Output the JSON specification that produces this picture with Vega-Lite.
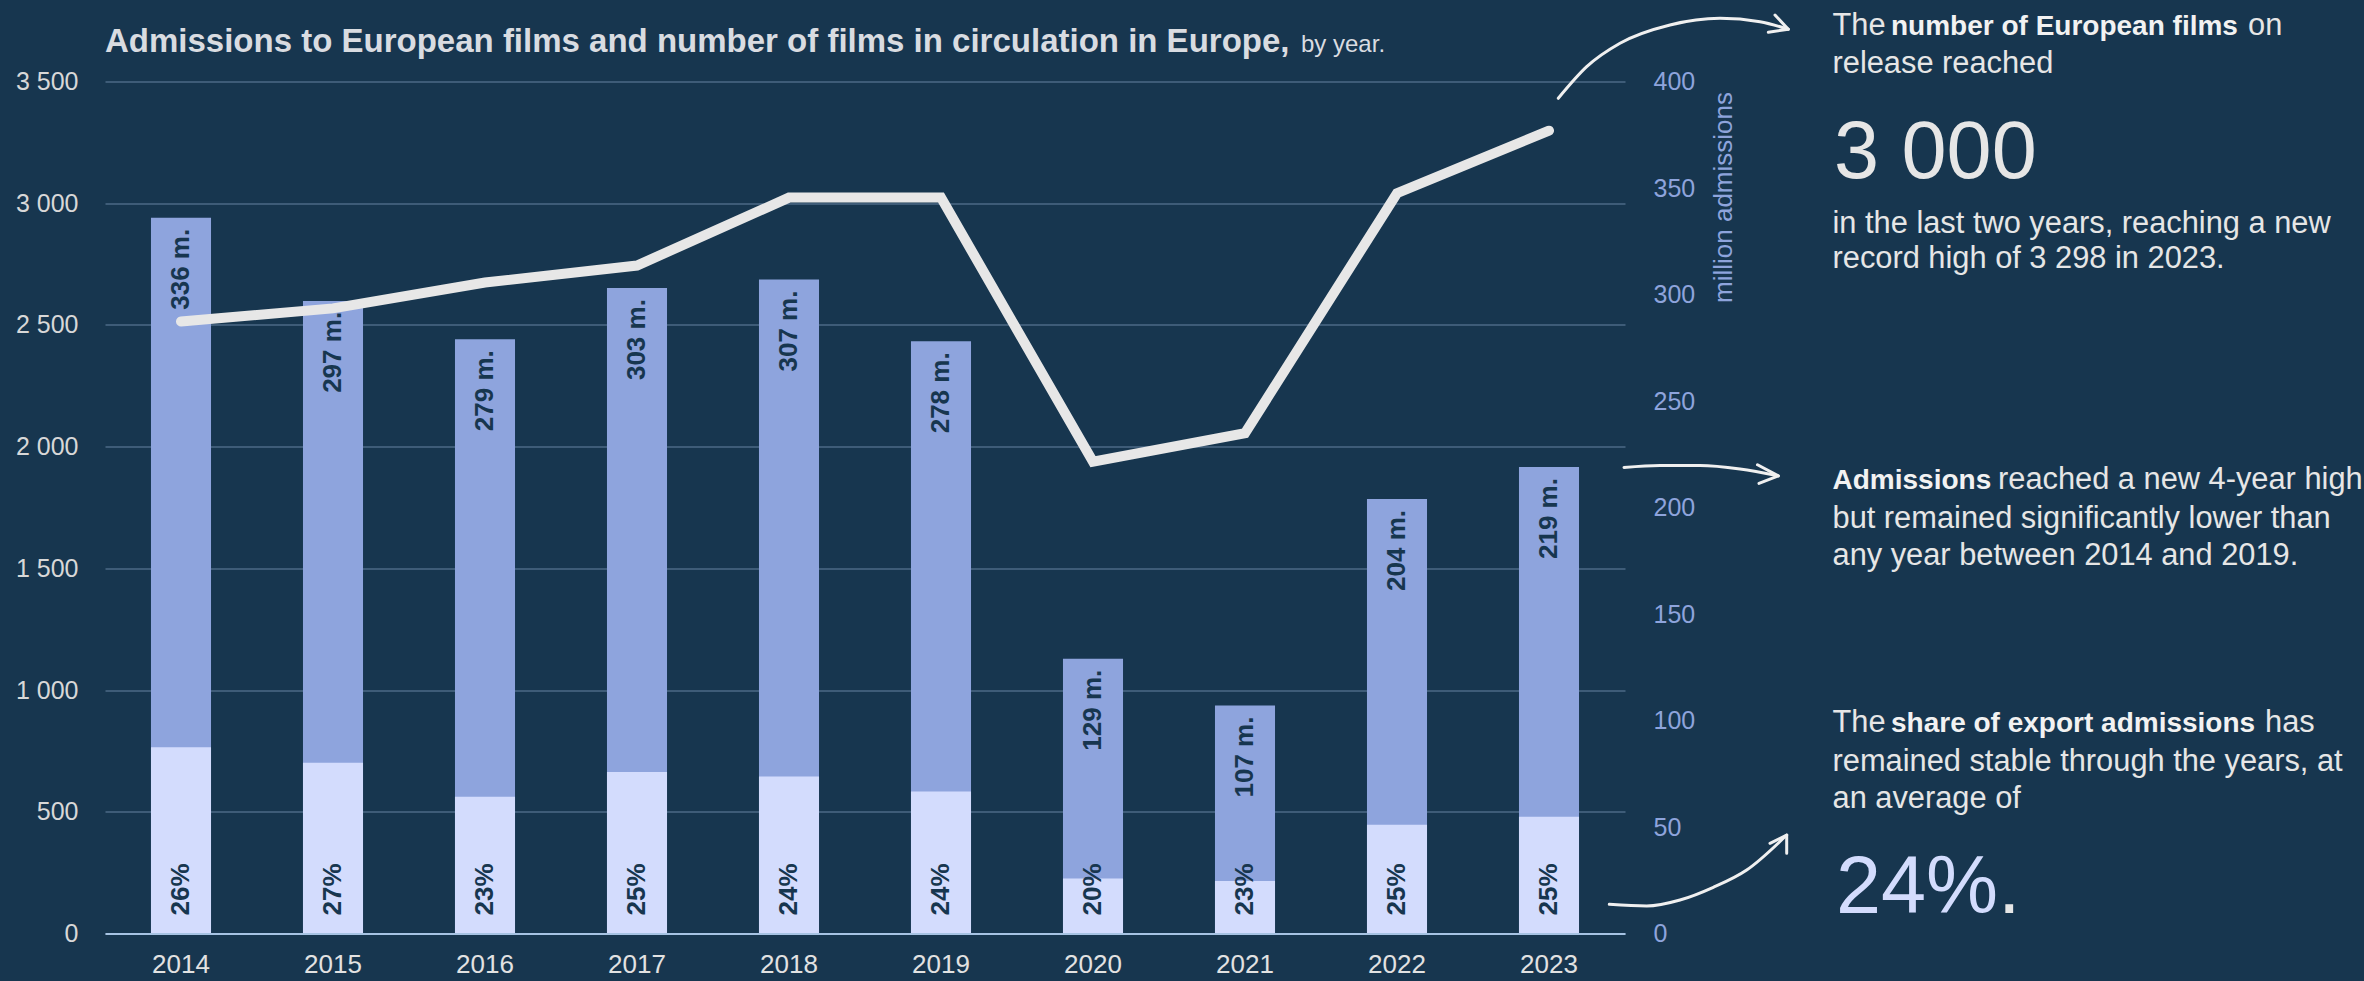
{
  "$schema": "https://vega.github.io/schema/vega-lite/v6.json",
  "autosize": {"type": "none"},
  "width": 1520,
  "height": 852,
  "padding": {"left": 105, "top": 81.5, "right": 739, "bottom": 47.5},
  "background": "#17364f",
  "config": {
    "view": {"stroke": null},
    "font": "Liberation Sans",
    "locale": {"number": {"decimal": ".", "thousands": " ", "grouping": [3], "currency": ["", ""]}}
  },
  "datasets": {
    "films": [
      {"year": "2014", "films": 2514, "admissions": 336, "export": 87.4, "admLabel": "336 m.", "shareLabel": "26%"},
      {"year": "2015", "films": 2568, "admissions": 297, "export": 80.2, "admLabel": "297 m.", "shareLabel": "27%"},
      {"year": "2016", "films": 2674, "admissions": 279, "export": 64.2, "admLabel": "279 m.", "shareLabel": "23%"},
      {"year": "2017", "films": 2744, "admissions": 303, "export": 75.8, "admLabel": "303 m.", "shareLabel": "25%"},
      {"year": "2018", "films": 3023, "admissions": 307, "export": 73.7, "admLabel": "307 m.", "shareLabel": "24%"},
      {"year": "2019", "films": 3023, "admissions": 278, "export": 66.7, "admLabel": "278 m.", "shareLabel": "24%"},
      {"year": "2020", "films": 1938, "admissions": 129, "export": 25.8, "admLabel": "129 m.", "shareLabel": "20%"},
      {"year": "2021", "films": 2055, "admissions": 107, "export": 24.6, "admLabel": "107 m.", "shareLabel": "23%"},
      {"year": "2022", "films": 3041, "admissions": 204, "export": 51.0, "admLabel": "204 m.", "shareLabel": "25%"},
      {"year": "2023", "films": 3298, "admissions": 219, "export": 54.8, "admLabel": "219 m.", "shareLabel": "25%"}
    ],
    "notes": [
      {"role": "title", "px": 0, "py": -29.2, "text": "Admissions to European films and number of films in circulation in Europe,"},
      {"role": "titlenote", "px": 1196, "py": -29.2, "text": "by year."},
      {"role": "body", "px": 1727.5, "py": -46.5, "text": "The"},
      {"role": "emph", "px": 1786, "py": -46.5, "text": "number of European films"},
      {"role": "body", "px": 2143, "py": -46.5, "text": "on"},
      {"role": "body", "px": 1727.5, "py": -8.2, "text": "release reached"},
      {"role": "figure", "px": 1729, "py": 96.8, "text": "3 000"},
      {"role": "body", "px": 1727.5, "py": 151.8, "text": "in the last two years, reaching a new"},
      {"role": "body", "px": 1727.5, "py": 186.8, "text": "record high of 3 298 in 2023."},
      {"role": "emph", "px": 1727.5, "py": 407.4, "text": "Admissions"},
      {"role": "body", "px": 1893, "py": 407.4, "text": "reached a new 4-year high"},
      {"role": "body", "px": 1727.5, "py": 446.3, "text": "but remained significantly lower than"},
      {"role": "body", "px": 1727.5, "py": 483.4, "text": "any year between 2014 and 2019."},
      {"role": "body", "px": 1727.5, "py": 650.1, "text": "The"},
      {"role": "emph", "px": 1786, "py": 650.1, "text": "share of export admissions"},
      {"role": "body", "px": 2160, "py": 650.1, "text": "has"},
      {"role": "body", "px": 1727.5, "py": 689, "text": "remained stable through the years, at"},
      {"role": "body", "px": 1727.5, "py": 726.1, "text": "an average of"},
      {"role": "accent", "px": 1731, "py": 831.6, "text": "24%"},
      {"role": "figure", "px": 1893, "py": 831.6, "text": "."}
    ],
    "arrows": [
      {"arrow": "a1", "part": "curve", "seq": 1, "px": 1453.3, "py": 16.8},
      {"arrow": "a1", "part": "curve", "seq": 2, "px": 1481.7, "py": -14.8},
      {"arrow": "a1", "part": "curve", "seq": 3, "px": 1515, "py": -38.2},
      {"arrow": "a1", "part": "curve", "seq": 4, "px": 1565, "py": -56.5},
      {"arrow": "a1", "part": "curve", "seq": 5, "px": 1615, "py": -63.2},
      {"arrow": "a1", "part": "curve", "seq": 6, "px": 1655, "py": -59.8},
      {"arrow": "a1", "part": "curve", "seq": 7, "px": 1683.3, "py": -52.2},
      {"arrow": "a1", "part": "head", "seq": 1, "px": 1670, "py": -66.5},
      {"arrow": "a1", "part": "head", "seq": 2, "px": 1683.3, "py": -52.2},
      {"arrow": "a1", "part": "head", "seq": 3, "px": 1663.3, "py": -49.2},
      {"arrow": "a2", "part": "curve", "seq": 1, "px": 1519, "py": 386},
      {"arrow": "a2", "part": "curve", "seq": 2, "px": 1555, "py": 384},
      {"arrow": "a2", "part": "curve", "seq": 3, "px": 1595, "py": 384},
      {"arrow": "a2", "part": "curve", "seq": 4, "px": 1635, "py": 387.5},
      {"arrow": "a2", "part": "curve", "seq": 5, "px": 1673.3, "py": 394.4},
      {"arrow": "a2", "part": "head", "seq": 1, "px": 1652.5, "py": 383.3},
      {"arrow": "a2", "part": "head", "seq": 2, "px": 1673.3, "py": 394.4},
      {"arrow": "a2", "part": "head", "seq": 3, "px": 1654, "py": 401.9},
      {"arrow": "a3", "part": "curve", "seq": 1, "px": 1504.3, "py": 822.8},
      {"arrow": "a3", "part": "curve", "seq": 2, "px": 1541.7, "py": 824.5},
      {"arrow": "a3", "part": "curve", "seq": 3, "px": 1575, "py": 818.5},
      {"arrow": "a3", "part": "curve", "seq": 4, "px": 1608.3, "py": 805.8},
      {"arrow": "a3", "part": "curve", "seq": 5, "px": 1641.7, "py": 788.5},
      {"arrow": "a3", "part": "curve", "seq": 6, "px": 1681.7, "py": 753.5},
      {"arrow": "a3", "part": "head", "seq": 1, "px": 1665, "py": 761.8},
      {"arrow": "a3", "part": "head", "seq": 2, "px": 1681.7, "py": 753.5},
      {"arrow": "a3", "part": "head", "seq": 3, "px": 1681.7, "py": 771.8}
    ]
  },
  "layer": [
    {
      "data": {"name": "films"},
      "layer": [
        {
          "layer": [
            {
              "mark": {"type": "bar", "color": "#8ea4dd"},
              "encoding": {
                "x": {
                  "field": "year", "type": "ordinal",
                  "scale": {"paddingInner": 0.605, "paddingOuter": 0.3025},
                  "axis": {"title": null, "labelAngle": 0, "domainColor": "#a6c3e3", "domainWidth": 2, "ticks": false, "labelColor": "#e2e2e2", "labelFontSize": 26, "labelBaseline": "alphabetic", "labelPadding": 39, "grid": false, "zindex": 1}
                },
                "y": {
                  "field": "admissions", "type": "quantitative",
                  "scale": {"domain": [0, 400], "nice": false},
                  "axis": {"orient": "right", "title": "million admissions", "values": [0, 50, 100, 150, 200, 250, 300, 350, 400], "grid": false, "domain": false, "ticks": false, "labelColor": "#8ea4dc", "labelFontSize": 25, "labelPadding": 28, "titleColor": "#8ea4dc", "titleFontSize": 26, "titleFontWeight": "normal", "titleAngle": 270, "titleAlign": "right", "titleBaseline": "middle", "titleX": 98, "titleY": 10}
                }
              }
            },
            {
              "mark": {"type": "bar", "color": "#d3dcfd"},
              "encoding": {
                "x": {"field": "year", "type": "ordinal"},
                "y": {"field": "export", "type": "quantitative"}
              }
            },
            {
              "mark": {"type": "text", "angle": 270, "align": "right", "baseline": "middle", "dx": -11, "fontSize": 26, "fontWeight": "bold", "color": "#17364f"},
              "encoding": {
                "x": {"field": "year", "type": "ordinal"},
                "y": {"field": "admissions", "type": "quantitative"},
                "text": {"field": "admLabel"}
              }
            },
            {
              "mark": {"type": "text", "angle": 270, "align": "left", "baseline": "middle", "dx": 18, "fontSize": 26, "fontWeight": "bold", "color": "#17364f"},
              "encoding": {
                "x": {"field": "year", "type": "ordinal"},
                "y": {"datum": 0, "type": "quantitative"},
                "text": {"field": "shareLabel"}
              }
            }
          ]
        },
        {
          "mark": {"type": "line", "color": "#e7e7e7", "strokeWidth": 10, "strokeCap": "round", "strokeJoin": "miter"},
          "encoding": {
            "x": {"field": "year", "type": "ordinal"},
            "y": {
              "field": "films", "type": "quantitative",
              "scale": {"domain": [0, 3500], "nice": false},
              "axis": {"orient": "left", "title": null, "values": [0, 500, 1000, 1500, 2000, 2500, 3000, 3500], "format": ",d", "grid": true, "gridColor": "#3e5c78", "gridWidth": 2, "domain": false, "ticks": false, "labelColor": "#d8d8d8", "labelFontSize": 25, "labelPadding": 27}
            }
          }
        }
      ],
      "resolve": {"scale": {"y": "independent"}}
    },
    {
      "layer": [
        {
          "data": {"name": "arrows"},
          "transform": [{"filter": "datum.part === 'curve'"}],
          "mark": {"type": "line", "interpolate": "monotone", "color": "#f0f0f0", "strokeWidth": 3, "strokeCap": "round"},
          "encoding": {
            "x": {"field": "px", "type": "quantitative", "scale": {"domain": [0, 1520], "nice": false, "zero": false}, "axis": null},
            "y": {"field": "py", "type": "quantitative", "scale": {"domain": [0, 852], "nice": false, "zero": false, "reverse": true}, "axis": null},
            "detail": {"field": "arrow"},
            "order": {"field": "seq"}
          }
        },
        {
          "data": {"name": "arrows"},
          "transform": [{"filter": "datum.part === 'head'"}],
          "mark": {"type": "line", "color": "#f0f0f0", "strokeWidth": 3, "strokeCap": "round", "strokeJoin": "round"},
          "encoding": {
            "x": {"field": "px", "type": "quantitative"},
            "y": {"field": "py", "type": "quantitative"},
            "detail": {"field": "arrow"},
            "order": {"field": "seq"}
          }
        },
        {
          "data": {"name": "notes"},
          "transform": [{"filter": "datum.role === 'title'"}],
          "mark": {"type": "text", "align": "left", "baseline": "alphabetic", "fontSize": 33, "fontWeight": "bold", "color": "#d9dce1"},
          "encoding": {"x": {"field": "px", "type": "quantitative"}, "y": {"field": "py", "type": "quantitative"}, "text": {"field": "text"}}
        },
        {
          "data": {"name": "notes"},
          "transform": [{"filter": "datum.role === 'titlenote'"}],
          "mark": {"type": "text", "align": "left", "baseline": "alphabetic", "fontSize": 24, "color": "#d9dce1"},
          "encoding": {"x": {"field": "px", "type": "quantitative"}, "y": {"field": "py", "type": "quantitative"}, "text": {"field": "text"}}
        },
        {
          "data": {"name": "notes"},
          "transform": [{"filter": "datum.role === 'body'"}],
          "mark": {"type": "text", "align": "left", "baseline": "alphabetic", "fontSize": 30.8, "color": "#e6e6e6"},
          "encoding": {"x": {"field": "px", "type": "quantitative"}, "y": {"field": "py", "type": "quantitative"}, "text": {"field": "text"}}
        },
        {
          "data": {"name": "notes"},
          "transform": [{"filter": "datum.role === 'emph'"}],
          "mark": {"type": "text", "align": "left", "baseline": "alphabetic", "fontSize": 28, "fontWeight": "bold", "color": "#f2f2f2"},
          "encoding": {"x": {"field": "px", "type": "quantitative"}, "y": {"field": "py", "type": "quantitative"}, "text": {"field": "text"}}
        },
        {
          "data": {"name": "notes"},
          "transform": [{"filter": "datum.role === 'figure'"}],
          "mark": {"type": "text", "align": "left", "baseline": "alphabetic", "fontSize": 81, "color": "#e6e6e6"},
          "encoding": {"x": {"field": "px", "type": "quantitative"}, "y": {"field": "py", "type": "quantitative"}, "text": {"field": "text"}}
        },
        {
          "data": {"name": "notes"},
          "transform": [{"filter": "datum.role === 'accent'"}],
          "mark": {"type": "text", "align": "left", "baseline": "alphabetic", "fontSize": 81, "color": "#d3dcfd"},
          "encoding": {"x": {"field": "px", "type": "quantitative"}, "y": {"field": "py", "type": "quantitative"}, "text": {"field": "text"}}
        }
      ]
    }
  ],
  "resolve": {"scale": {"x": "independent", "y": "independent"}}
}
